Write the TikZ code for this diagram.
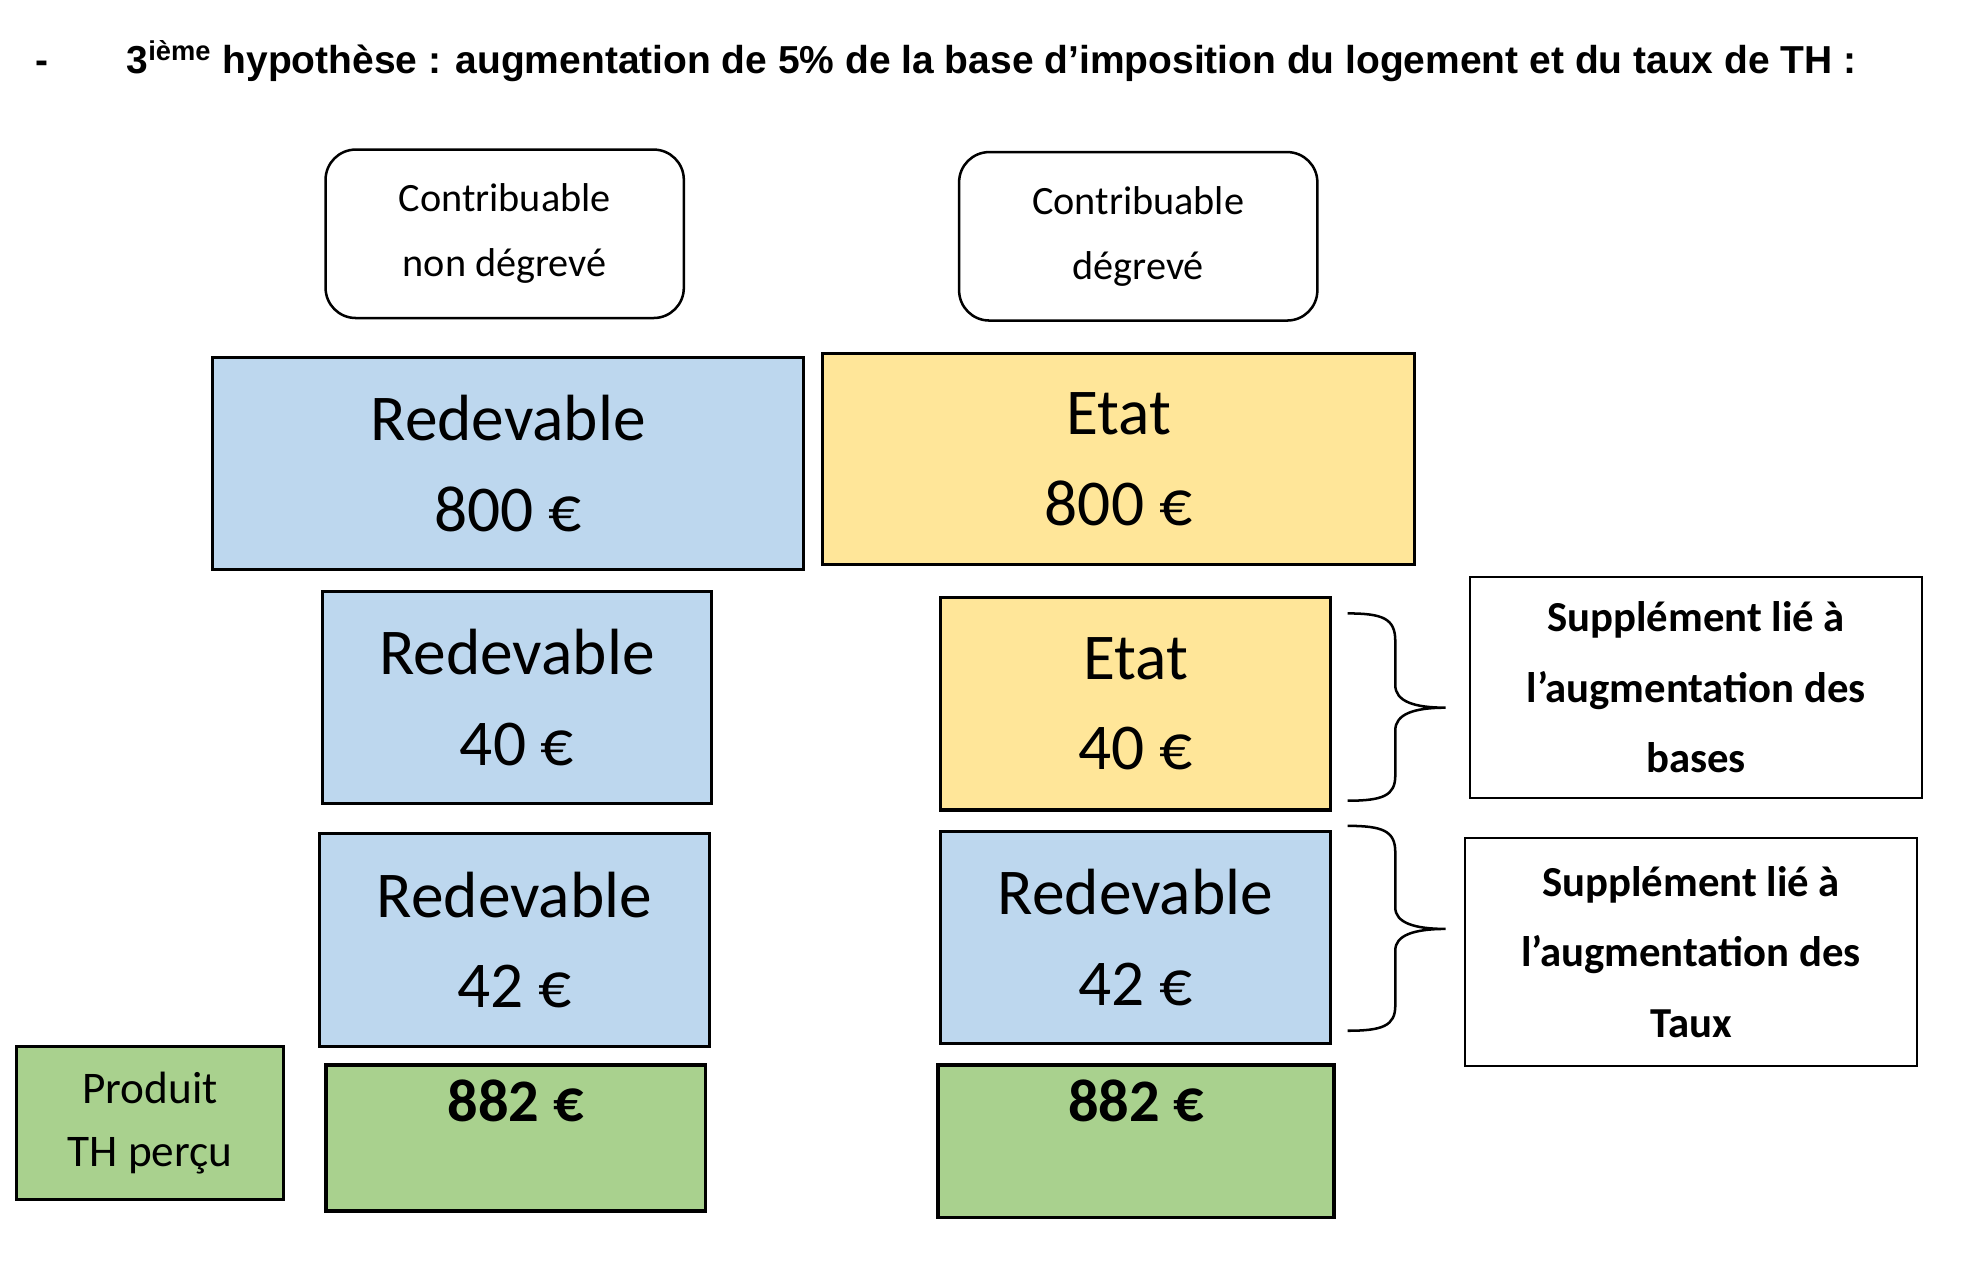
\documentclass[tikz,border=0pt]{standalone}
\usepackage{fontspec}
\setmainfont{Carlito}
\newfontfamily\arialf{Liberation Sans}
\definecolor{bl}{HTML}{BDD7EE}
\definecolor{ye}{HTML}{FFE699}
\definecolor{gr}{HTML}{A9D18E}
\begin{document}
\begin{tikzpicture}[x=0.5pt,y=-0.5pt,
  bx/.style={draw=black,line width=1.3pt,anchor=north west,inner sep=0pt,align=center,font=\fontsize{26}{36}\selectfont},
  rb/.style={draw=black,line width=1pt,rounded corners=12pt,anchor=north west,inner sep=0pt,align=center,font=\fontsize{16}{26}\selectfont},
  sb/.style={draw=black,line width=0.8pt,anchor=north west,inner sep=0pt,align=center,font=\bfseries\fontsize{17}{28}\selectfont},
  br/.style={line width=1pt}]
\useasboundingbox (0,0) rectangle (1568,1015);
\node[anchor=north west,inner sep=0pt,text width=750pt,align=justify,font=\arialf\bfseries\fontsize{15.5}{20}\selectfont] (t) at (28,32)
 {-\hspace{2em}3\textsuperscript{ième} hypothèse : augmentation de 5\% de la base d’imposition du logement et du taux de TH :};
\node[rb,minimum width=142.5pt,minimum height=67pt] (c1) at (258,118) {Contribuable\\non dégrevé};
\node[rb,minimum width=142.5pt,minimum height=67pt] (c2) at (762,120) {Contribuable\\dégrevé};
\node[bx,fill=bl,minimum width=235pt,minimum height=84.5pt] (r1) at (168,283) {Redevable\\800 €};
\node[bx,fill=ye,minimum width=235.5pt,minimum height=84pt] (e1) at (653,280) {Etat\\800 €};
\node[bx,fill=bl,minimum width=155pt,minimum height=84.5pt] (r2) at (255,469) {Redevable\\40 €};
\node[bx,fill=ye,minimum width=155pt,minimum height=84.5pt] (e2) at (747,474) {Etat\\40 €};
\node[bx,fill=bl,minimum width=155pt,minimum height=84.5pt] (r3) at (253,662) {Redevable\\42 €};
\node[bx,fill=bl,minimum width=155pt,minimum height=84.5pt] (r4) at (747,660) {Redevable\\42 €};
\node[bx,fill=gr,minimum width=106pt,minimum height=61pt,font=\fontsize{18}{25}\selectfont] (p) at (12,831) {Produit\\TH perçu};
\node[bx,fill=gr,minimum width=151pt,minimum height=58pt,font=\bfseries\fontsize{24}{30}\selectfont,text depth=30pt] (g1) at (258,846) {882 €};
\node[bx,fill=gr,minimum width=157.5pt,minimum height=60.5pt,font=\bfseries\fontsize{24}{30}\selectfont,text depth=32pt] (g2) at (745,846) {882 €};
\node[sb,minimum width=179.5pt,minimum height=88pt] (s1) at (1169,458) {Supplément lié à\\l’augmentation des\\bases};
\node[sb,minimum width=179.5pt,minimum height=90.5pt] (s2) at (1165,666) {Supplément lié à\\l’augmentation des\\Taux};
\draw[br] (1072,488) .. controls (1100,488) and (1110,492) .. (1110,510) -- (1110,545) .. controls (1110,558) and (1125,563) .. (1150,563)
  .. controls (1125,563) and (1110,568) .. (1110,581) -- (1110,617) .. controls (1110,633) and (1100,637) .. (1072,637);
\draw[br] (1072,657) .. controls (1100,657) and (1110,661) .. (1110,678) -- (1110,722) .. controls (1110,734) and (1125,739) .. (1150,739)
  .. controls (1125,739) and (1110,744) .. (1110,756) -- (1110,800) .. controls (1110,816) and (1100,820) .. (1072,820);
\end{tikzpicture}
\end{document}
